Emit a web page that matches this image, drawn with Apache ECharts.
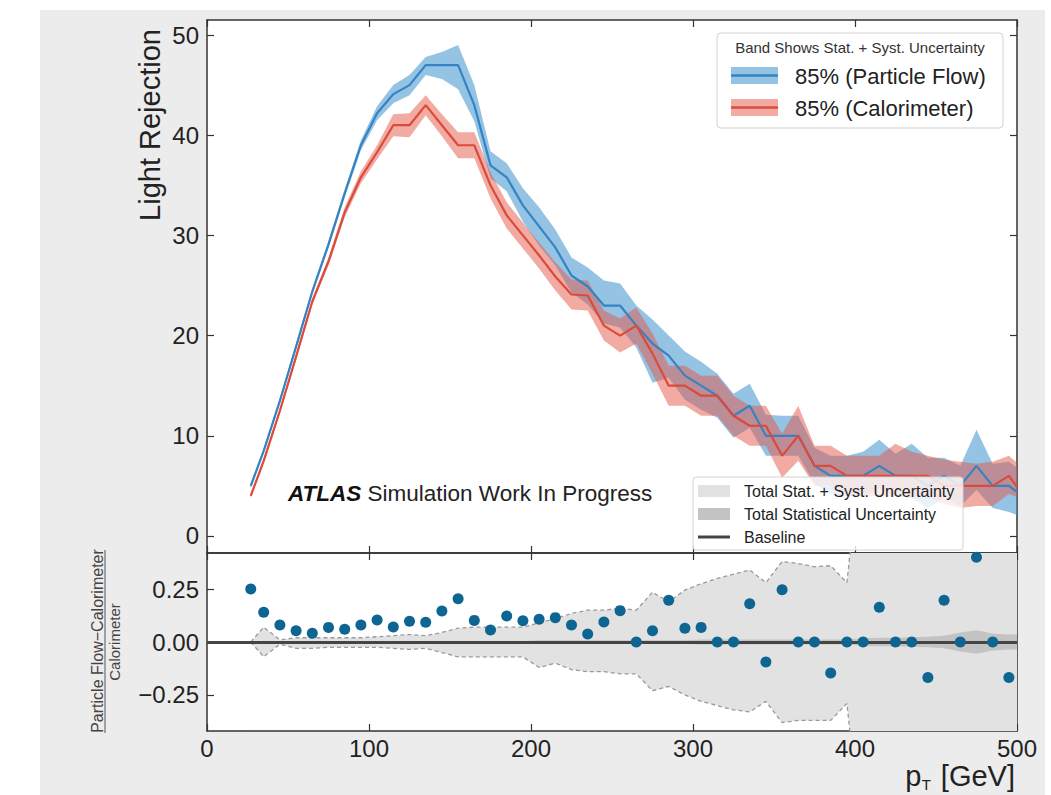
<!DOCTYPE html>
<html>
<head>
<meta charset="utf-8">
<script src="https://cdn.jsdelivr.net/npm/echarts@6/dist/echarts.min.js"></script>
<style>
  html, body { margin: 0; padding: 0; background: #ffffff; }
  #bg { position: absolute; left: 40px; top: 10px; width: 1005px; height: 785px; background: #ececec; }
  #chart { position: absolute; left: 0; top: 0; width: 1051px; height: 795px; }
</style>
</head>
<body>
<div id="bg"></div>
<div id="chart"></div>
<script>
// ---------------- data ----------------
const pt = [27, 35, 45, 55, 65, 75, 85, 95, 105, 115, 125, 135, 145, 155, 165, 175, 185, 195, 205, 215,
            225, 235, 245, 255, 265, 275, 285, 295, 305, 315, 325, 335, 345, 355, 365, 375, 385, 395, 405, 415,
            425, 435, 445, 455, 465, 475, 485, 495, 500];

// 85% (Particle Flow) light rejection and its stat+syst band
const pflowRej = [5.0, 8.5, 13.5, 18.9, 24.4, 29.1, 34.2, 39.0, 42.2, 44.1, 45.0, 47.0, 47.0, 47.0, 43.0, 37.0, 35.8, 33.0, 30.9, 28.8,
                  26.0, 24.9, 23.0, 23.0, 21.0, 19.2, 18.0, 16.0, 15.0, 14.0, 12.0, 13.0, 10.0, 10.0, 10.0, 7.0, 6.0, 6.0, 6.0, 7.0,
                  6.0, 6.0, 5.0, 6.0, 5.0, 7.0, 5.0, 5.0, 4.4];
const pflowHi = [5.25, 8.75, 13.8, 19.2, 24.7, 29.45, 34.6, 39.5, 42.9, 45.0, 46.0, 47.8, 48.3, 49.0, 45.0, 38.4, 37.2, 34.7, 32.8, 30.6,
                 27.8, 26.8, 25.5, 25.2, 23.0, 21.6, 20.0, 18.4, 17.4, 16.2, 14.2, 15.2, 12.1, 12.0, 12.0, 8.8, 8.0, 8.0, 8.4, 9.6,
                 8.2, 9.2, 7.8, 7.8, 7.0, 10.6, 7.2, 7.4, 6.8];
const pflowLo = [4.75, 8.25, 13.2, 18.6, 24.1, 28.75, 33.8, 38.5, 41.5, 43.2, 44.0, 46.0, 45.6, 44.6, 41.4, 35.7, 34.4, 31.4, 29.0, 27.0,
                 24.3, 23.1, 21.2, 20.8, 18.8, 15.3, 15.8, 13.6, 12.6, 11.8, 9.8, 10.8, 8.0, 8.0, 8.0, 5.2, 4.2, 4.0, 4.0, 4.8,
                 4.0, 3.8, 2.8, 3.8, 3.0, 4.6, 2.8, 2.4, 2.1];

// 85% (Calorimeter) light rejection and its stat+syst band
const caloRej = [4.0, 7.5, 12.5, 17.9, 23.4, 27.4, 32.3, 35.8, 38.3, 41.0, 41.0, 43.0, 41.0, 39.0, 39.0, 35.0, 32.0, 30.0, 28.0, 25.9,
                 24.1, 24.0, 21.0, 20.0, 21.0, 18.2, 15.0, 15.0, 14.0, 14.0, 12.0, 11.0, 11.0, 8.0, 10.0, 7.0, 7.0, 6.0, 6.0, 6.0,
                 6.0, 6.0, 6.0, 5.0, 5.0, 5.0, 5.0, 6.0, 4.9];
const caloHi = [4.2, 7.75, 12.75, 18.2, 23.7, 27.8, 32.8, 36.4, 39.0, 42.1, 42.2, 44.0, 42.1, 40.3, 40.3, 36.3, 33.3, 31.3, 29.3, 27.3,
                25.6, 25.5, 22.5, 21.7, 22.8, 20.2, 17.0, 17.0, 16.0, 16.0, 14.0, 13.0, 13.0, 10.2, 13.0, 9.0, 9.0, 8.0, 8.0, 8.0,
                9.2, 8.4, 8.0, 7.6, 7.4, 7.2, 7.4, 8.0, 7.3];
const caloLo = [3.8, 7.25, 12.25, 17.6, 23.1, 27.0, 31.8, 35.2, 37.6, 39.9, 39.8, 42.0, 39.9, 37.7, 37.7, 33.7, 30.7, 28.7, 26.7, 24.5,
                22.6, 22.5, 19.5, 18.3, 19.2, 16.2, 13.0, 13.0, 12.0, 12.0, 10.0, 9.0, 9.0, 5.8, 7.5, 5.0, 5.0, 4.0, 4.0, 4.0,
                4.0, 3.8, 4.0, 3.2, 2.8, 3.0, 3.0, 4.2, 3.9];

// ratio panel: (Particle Flow - Calorimeter) / Calorimeter, one point per bin
const ratio = [0.25, 0.14, 0.08, 0.053, 0.041, 0.069, 0.06, 0.08, 0.104, 0.071, 0.098, 0.093, 0.146, 0.204, 0.102, 0.057, 0.123, 0.10, 0.107, 0.115,
               0.08, 0.038, 0.094, 0.148, 0, 0.053, 0.197, 0.065, 0.069, 0, 0, 0.18, -0.094, 0.247, 0, 0, -0.146, 0, 0, 0.164,
               0, 0, -0.168, 0.197, 0, 0.40, 0, -0.168];
// total stat + syst uncertainty on the ratio (beyond ~400 GeV it exceeds the frame)
const totUncHi = [0, 0.07, 0.01, 0.02, 0.02, 0.02, 0.02, 0.02, 0.025, 0.03, 0.035, 0.03, 0.045, 0.065, 0.07, 0.07, 0.07, 0.07, 0.09, 0.11,
                  0.135, 0.15, 0.15, 0.16, 0.15, 0.235, 0.19, 0.245, 0.275, 0.30, 0.32, 0.34, 0.28, 0.38, 0.37, 0.355, 0.36, 0.28, 1, 1,
                  1, 1, 1, 1, 1, 1, 1, 1, 1];
const totUncLo = [0, -0.07, -0.01, -0.03, -0.03, -0.025, -0.025, -0.025, -0.025, -0.03, -0.035, -0.03, -0.05, -0.07, -0.07, -0.07, -0.07, -0.07, -0.12, -0.10,
                  -0.13, -0.14, -0.14, -0.15, -0.15, -0.23, -0.21, -0.25, -0.28, -0.30, -0.32, -0.33, -0.28, -0.38, -0.37, -0.37, -0.37, -0.29, -1, -1,
                  -1, -1, -1, -1, -1, -1, -1, -1, -1];
// total statistical uncertainty on the ratio
const statUncHi = [0, 0.004, 0.005, 0.005, 0.005, 0.005, 0.005, 0.005, 0.005, 0.005, 0.005, 0.005, 0.005, 0.005, 0.005, 0.005, 0.005, 0.005, 0.008, 0.008,
                   0.008, 0.008, 0.008, 0.008, 0.008, 0.008, 0.008, 0.008, 0.012, 0.012, 0.012, 0.012, 0.012, 0.012, 0.012, 0.012, 0.012, 0.012, 0.018, 0.02,
                   0.02, 0.022, 0.025, 0.03, 0.045, 0.055, 0.04, 0.035, 0.035];
const statUncLo = [0, -0.004, -0.005, -0.005, -0.005, -0.005, -0.005, -0.005, -0.005, -0.005, -0.005, -0.005, -0.005, -0.005, -0.005, -0.005, -0.005, -0.005, -0.008, -0.008,
                   -0.008, -0.008, -0.008, -0.008, -0.008, -0.008, -0.008, -0.008, -0.012, -0.012, -0.012, -0.012, -0.012, -0.012, -0.012, -0.012, -0.012, -0.012, -0.018, -0.02,
                   -0.02, -0.022, -0.025, -0.03, -0.045, -0.055, -0.04, -0.035, -0.035];

const rejTicks = [0, 10, 20, 30, 40, 50];
const ratioTicks = [-0.25, 0, 0.25];
const ptTickStep = 100;

// ---------------- styling ----------------
const FONT = '"Liberation Sans", Arial, Helvetica, sans-serif';
const BLUE_LINE = '#3583c2', BLUE_BAND = 'rgba(60,145,205,0.55)';
const RED_LINE = '#dc4a3a', RED_BAND = 'rgba(228,88,72,0.5)';
const TOT_FILL = '#e2e2e2', STAT_FILL = '#c3c3c3';

const axLine = { show: true, onZero: false, lineStyle: { color: '#333', width: 1.5 } };
function ticks(extra) { return Object.assign({ show: true, inside: true, length: 7, lineStyle: { color: '#333', width: 1.2 } }, extra || {}); }

function xAx(grid, pos, labels) {
  return {
    type: 'value', gridIndex: grid, position: pos, min: 0, max: 500, interval: ptTickStep,
    axisLine: axLine, axisTick: ticks(), splitLine: { show: false },
    axisLabel: labels ? { show: true, fontSize: 24, color: '#222', margin: 5, fontFamily: FONT } : { show: false }
  };
}
function yAx(grid, pos, min, max, tv, fmt) {
  return {
    type: 'value', gridIndex: grid, position: pos, min: min, max: max,
    axisLine: axLine, axisTick: ticks({ customValues: tv }), splitLine: { show: false },
    axisLabel: fmt ? { show: true, customValues: tv, fontSize: 24, color: '#222', margin: 8, fontFamily: FONT, formatter: fmt } : { show: false }
  };
}

function band(xi, yi, hi, lo, fill, z) {
  return {
    type: 'custom', xAxisIndex: xi, yAxisIndex: yi, z: z, silent: true, clip: true,
    data: [[pt[0], lo[0]]],
    renderItem: function (params, api) {
      const up = pt.map((x, i) => api.coord([x, hi[i]]));
      const dn = pt.map((x, i) => api.coord([x, lo[i]])).reverse();
      const cs = params.coordSys;
      return {
        type: 'polygon', shape: { points: up.concat(dn) }, style: { fill: fill },
        clipPath: { type: 'rect', shape: { x: cs.x, y: cs.y, width: cs.width, height: cs.height } }
      };
    }
  };
}
function curve(xi, yi, vals, color, width, extra) {
  return Object.assign({
    type: 'line', xAxisIndex: xi, yAxisIndex: yi, symbol: 'none', silent: true, clip: true,
    data: vals.map((v, i) => [pt[i], v]),
    lineStyle: { color: color, width: width }, itemStyle: { color: color }
  }, extra || {});
}
function txt(x, y, text, size, align, extra) {
  return Object.assign({
    type: 'text', x: x, y: y, z: 51,
    style: { text: text, fontSize: size, fontFamily: FONT, fill: '#222', align: align, verticalAlign: 'middle', textAlign: align, textVerticalAlign: 'middle' }
  }, extra || {});
}

const chart = echarts.init(document.getElementById('chart'), null, { renderer: 'svg', width: 1051, height: 795 });

const option = {
  backgroundColor: 'transparent',
  animation: false,
  grid: [
    { left: 207, top: 20, width: 810, height: 533, show: true, backgroundColor: '#ffffff', borderWidth: 0 },
    { left: 207, top: 553, width: 810, height: 178, show: true, backgroundColor: '#ffffff', borderWidth: 0 }
  ],
  xAxis: [xAx(0, 'bottom', false), xAx(0, 'top', false), xAx(1, 'bottom', true), xAx(1, 'top', false)],
  yAxis: [
    yAx(0, 'left', -1.7, 51.5, rejTicks, v => String(v)),
    yAx(0, 'right', -1.7, 51.5, rejTicks, null),
    yAx(1, 'left', -0.42, 0.42, ratioTicks, v => v.toFixed(2).replace('-', '\u2212')),
    yAx(1, 'right', -0.42, 0.42, ratioTicks, null)
  ],
  series: [
    band(0, 0, pflowHi, pflowLo, BLUE_BAND, 2),
    band(0, 0, caloHi, caloLo, RED_BAND, 3),
    curve(0, 0, pflowRej, BLUE_LINE, 2.2, { z: 4 }),
    curve(0, 0, caloRej, RED_LINE, 2.2, { z: 5 }),
    band(2, 2, totUncHi, totUncLo, TOT_FILL, 2),
    curve(2, 2, totUncHi, '#9a9a9a', 1.3, { z: 3, lineStyle: { color: '#9a9a9a', width: 1.3, type: [4, 3] } }),
    curve(2, 2, totUncLo, '#9a9a9a', 1.3, { z: 3, lineStyle: { color: '#9a9a9a', width: 1.3, type: [4, 3] } }),
    band(2, 2, statUncHi, statUncLo, STAT_FILL, 4),
    curve(2, 2, statUncHi.map(() => null), '#444', 0, {
      z: 5,
      markLine: { silent: true, symbol: 'none', label: { show: false }, lineStyle: { color: '#454545', width: 3, type: 'solid' }, data: [{ yAxis: 0 }] }
    }),
    {
      type: 'scatter', xAxisIndex: 2, yAxisIndex: 2, z: 8, silent: true, symbolSize: 11,
      itemStyle: { color: '#0e6592', opacity: 1 },
      data: ratio.map((r, i) => [pt[i], r])
    }
  ],
  graphic: [
    // axis titles
    txt(150, 125, 'Light Rejection', 29, 'center', { rotation: Math.PI / 2 }),
    txt(1015, 776, '[GeV]', 29, 'right'),
    txt(931, 784, 'T', 15, 'right'),
    txt(921.5, 776, 'p', 29, 'right'),
    txt(97, 641, 'Particle Flow\u2212Calorimeter', 16, 'center', { rotation: Math.PI / 2 }),
    { type: 'line', z: 50, shape: { x1: 105, y1: 550, x2: 105, y2: 733 }, style: { stroke: '#555', lineWidth: 1 } },
    txt(114, 642, 'Calorimeter', 15, 'center', { rotation: Math.PI / 2 }),
    // ATLAS label
    txt(288, 493, '{b|ATLAS} Simulation Work In Progress', 22.5, 'left', {}),
    // top legend
    { type: 'rect', z: 50, shape: { x: 717, y: 33, width: 286, height: 95, r: 4 }, style: { fill: 'rgba(255,255,255,0.85)', stroke: '#d2d2d2', lineWidth: 1 } },
    txt(860, 47, 'Band Shows Stat. + Syst. Uncertainty', 15, 'center'),
    { type: 'rect', z: 51, shape: { x: 731, y: 67, width: 47, height: 17 }, style: { fill: BLUE_BAND } },
    { type: 'line', z: 52, shape: { x1: 731, y1: 75.5, x2: 778, y2: 75.5 }, style: { stroke: BLUE_LINE, lineWidth: 2.5 } },
    txt(795, 76, '85% (Particle Flow)', 22, 'left'),
    { type: 'rect', z: 51, shape: { x: 731, y: 99, width: 47, height: 17 }, style: { fill: RED_BAND } },
    { type: 'line', z: 52, shape: { x1: 731, y1: 107.5, x2: 778, y2: 107.5 }, style: { stroke: RED_LINE, lineWidth: 2.5 } },
    txt(795, 108, '85% (Calorimeter)', 22, 'left'),
    // lower legend
    { type: 'rect', z: 50, shape: { x: 693, y: 477, width: 270, height: 73, r: 3 }, style: { fill: 'rgba(255,255,255,0.8)', stroke: '#d2d2d2', lineWidth: 1 } },
    { type: 'rect', z: 51, shape: { x: 698, y: 485, width: 32, height: 12 }, style: { fill: TOT_FILL } },
    txt(744, 491, 'Total Stat. + Syst. Uncertainty', 16, 'left'),
    { type: 'rect', z: 51, shape: { x: 698, y: 508, width: 32, height: 12 }, style: { fill: STAT_FILL } },
    txt(744, 514, 'Total Statistical Uncertainty', 16, 'left'),
    { type: 'line', z: 51, shape: { x1: 698, y1: 537, x2: 730, y2: 537 }, style: { stroke: '#444', lineWidth: 3 } },
    txt(744, 537, 'Baseline', 16, 'left')
  ]
};
// styles that need extra keys
option.graphic[4].style.fill = '#444';
option.graphic[6].style.fill = '#444';
option.graphic[7].style.rich = { b: { fontSize: 22.5, fontFamily: FONT, fontWeight: 'bold', fontStyle: 'italic', fill: '#111', color: '#111' } };
option.graphic[9].style.fill = '#333';
chart.setOption(option);
</script>
</body>
</html>
